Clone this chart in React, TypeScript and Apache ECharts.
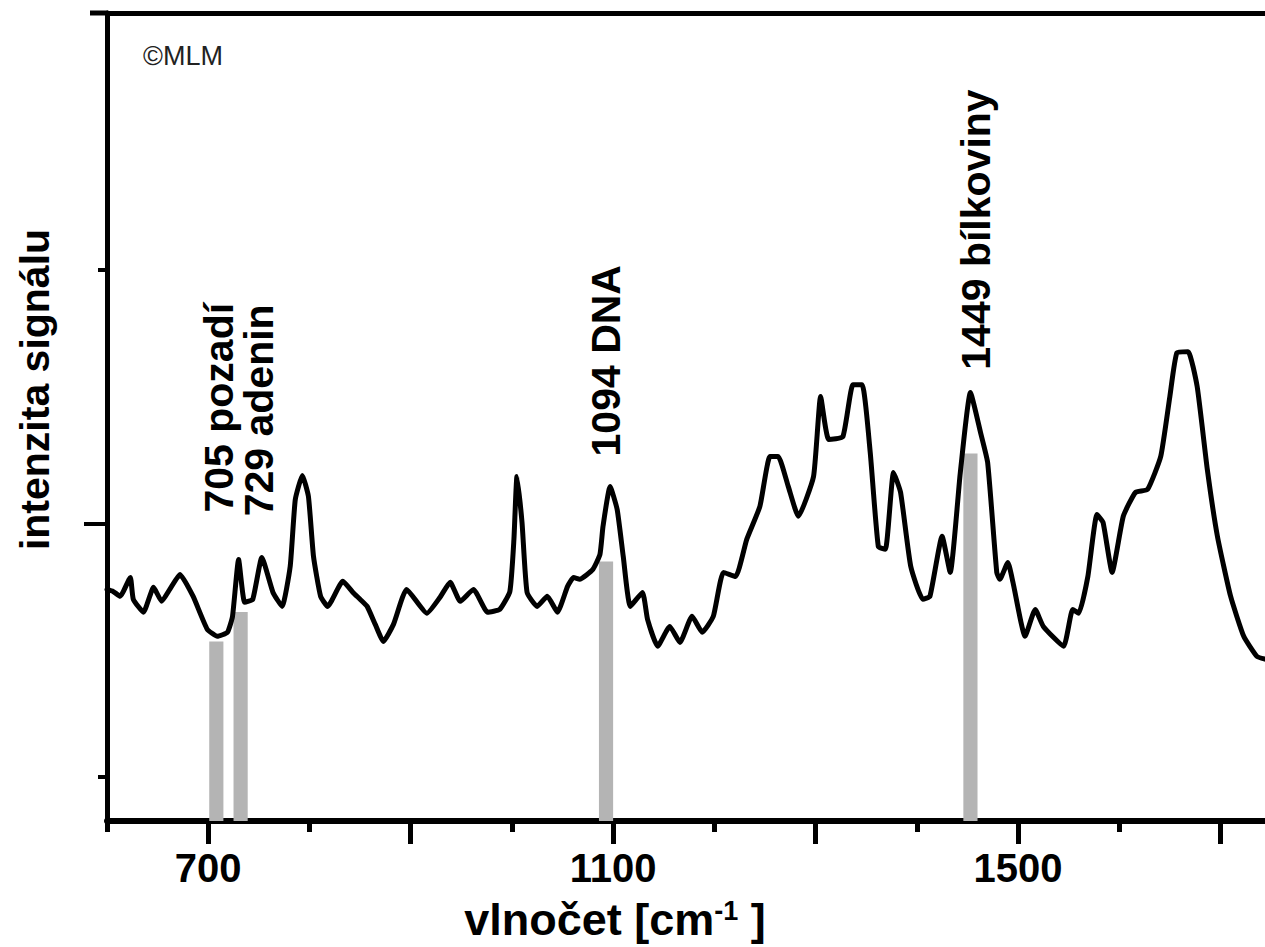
import React, { useEffect, useRef } from "react";
import * as echarts from "echarts";

// Raman spectrum: wavenumber [cm-1] and signal intensity (a.u.)
const wavenumbers = [
  600, 606, 613, 623, 626, 636, 646, 654, 662, 672, 685, 699, 709, 719, 724, 730, 736, 744, 753, 764,
  773, 781, 786, 793, 799, 804, 811, 818, 833, 843, 850, 857, 865, 873, 883, 896, 916, 929, 939, 949,
  962, 976, 988, 998, 1002, 1005, 1010, 1015, 1025, 1035, 1045, 1055, 1061, 1067, 1080, 1087, 1090, 1097, 1104, 1110,
  1117, 1129, 1134, 1144, 1156, 1166, 1178, 1188, 1199, 1209, 1221, 1232, 1245, 1255, 1263, 1273, 1283, 1298, 1305, 1313,
  1327, 1337, 1346, 1354, 1362, 1369, 1377, 1384, 1394, 1406, 1413, 1425, 1433, 1443, 1453, 1463, 1470, 1479, 1482, 1490,
  1495, 1507, 1517, 1525, 1545, 1554, 1560, 1569, 1578, 1584, 1593, 1604, 1616, 1628, 1641, 1650, 1657, 1668, 1677, 1687,
  1697, 1710, 1723, 1736, 1744,
];
const intensities = [
  1740, 1732, 1713, 1787, 1701, 1650, 1748, 1693, 1740, 1799, 1713, 1583, 1555, 1571, 1634, 1858, 1689, 1701, 1866, 1728,
  1673, 1831, 2094, 2189, 2106, 1870, 1713, 1673, 1772, 1728, 1701, 1673, 1602, 1535, 1602, 1740, 1646, 1709, 1768, 1693,
  1740, 1650, 1661, 1732, 1937, 2185, 2004, 1728, 1673, 1713, 1650, 1752, 1787, 1780, 1819, 1878, 1988, 2146, 2055, 1870,
  1673, 1728, 1622, 1516, 1594, 1531, 1634, 1571, 1634, 1807, 1791, 1937, 2067, 2264, 2264, 2146, 2028, 2185, 2500, 2331,
  2342, 2547, 2547, 2280, 1909, 1898, 2201, 2122, 1831, 1701, 1713, 1949, 1807, 2201, 2516, 2358, 2240, 1807, 1780, 1846,
  1768, 1555, 1661, 1594, 1516, 1661, 1646, 1791, 2035, 2004, 1807, 2028, 2122, 2134, 2264, 2500, 2673, 2677, 2539, 2213,
  1949, 1713, 1555, 1476, 1465,
];

// highlighted bands (centres in cm-1) and their labels
const bandCenters = [708, 732, 1093, 1453];
const bandHalfWidth = 7;
const bandLabels = ["705 pozadí", "729 adenin", "1094 DNA", "1449 bílkoviny"];
const labelAnchorX = [711, 750, 1093, 1458];
const labelLevels = [2043, 2028, 2264, 2606];

// axes
const X_MIN = 600;
const X_MAX = 1744;
const Y_MIN = 827;
const Y_MAX = 4012;
const xMinorTicks = [600, 700, 800, 900, 1000, 1100, 1200, 1300, 1400, 1500, 1600, 1700];
const xMajorTicks = [700, 900, 1100, 1300, 1500, 1700];
const xTickLabels = [700, 1100, 1500];
const yShortTicks = [1000, 3000];
const yLongTicks = [2000];

const FONT = "'Liberation Sans', Arial, Helvetica, sans-serif";

function valueAt(x: number): number {
  for (let i = 1; i < wavenumbers.length; i++) {
    if (x <= wavenumbers[i]) {
      const x0 = wavenumbers[i - 1];
      const x1 = wavenumbers[i];
      const t = (x - x0) / (x1 - x0);
      return intensities[i - 1] + t * (intensities[i] - intensities[i - 1]);
    }
  }
  return intensities[intensities.length - 1];
}

function bandTop(c: number): number {
  const lo = c - bandHalfWidth;
  const hi = c + bandHalfWidth;
  let m = Math.min(valueAt(lo), valueAt(c), valueAt(hi));
  wavenumbers.forEach((w, i) => {
    if (w >= lo && w <= hi) m = Math.min(m, intensities[i]);
  });
  return m - 20;
}

export default function App() {
  const ref = useRef<HTMLDivElement>(null);

  useEffect(() => {
    if (!ref.current) return;
    const chart = echarts.init(ref.current, null, { renderer: "svg" });
    const data = wavenumbers.map((w, i) => [w, intensities[i]]);
    const axisCommon = {
      type: "value",
      min: X_MIN,
      max: X_MAX,
      splitLine: { show: false },
    };
    const option: any = {
      animation: false,
      backgroundColor: "#fff",
      grid: { left: 107, right: 0, top: 13, bottom: 125, containLabel: false },
      xAxis: [
        {
          ...axisCommon,
          position: "bottom",
          axisLine: { show: true, onZero: false, lineStyle: { color: "#000", width: 6 } },
          axisTick: { show: true, customValues: xMinorTicks, length: 11, lineStyle: { color: "#000", width: 5 } },
          axisLabel: {
            show: true,
            customValues: xTickLabels,
            formatter: (v: number) => String(v),
            margin: 27,
            fontSize: 40,
            fontWeight: "bold",
            color: "#000",
            fontFamily: FONT,
          },
          name: "vlnočet [cm{sup|-1}{t| ]}",
          nameLocation: "middle",
          nameGap: 76,
          nameTextStyle: {
            fontSize: 45,
            fontWeight: "bold",
            color: "#000",
            fontFamily: FONT,
            padding: [0, 142, 0, 0],
            rich: {
              sup: { fontSize: 27, fontWeight: "bold", color: "#000", fontFamily: FONT, verticalAlign: "top" },
              t: { fontSize: 45, fontWeight: "bold", color: "#000", fontFamily: FONT },
            },
          },
        },
        {
          ...axisCommon,
          position: "bottom",
          axisLine: { show: false },
          axisTick: { show: true, customValues: xMajorTicks, length: 23, lineStyle: { color: "#000", width: 5 } },
          axisLabel: { show: false },
        },
        {
          ...axisCommon,
          position: "top",
          axisLine: { show: true, lineStyle: { color: "#000", width: 5 } },
          axisTick: { show: false },
          axisLabel: { show: false },
        },
      ],
      yAxis: [
        {
          type: "value",
          min: Y_MIN,
          max: Y_MAX,
          position: "left",
          splitLine: { show: false },
          axisLine: { show: true, onZero: false, lineStyle: { color: "#000", width: 5 } },
          axisTick: { show: true, customValues: yShortTicks, length: 9, lineStyle: { color: "#000", width: 4 } },
          axisLabel: { show: false },
          name: "intenzita signálu",
          nameLocation: "middle",
          nameGap: 52,
          nameTextStyle: {
            fontSize: 41,
            fontWeight: "bold",
            color: "#000",
            fontFamily: FONT,
            padding: [0, 0, 0, 55],
          },
        },
        {
          type: "value",
          min: Y_MIN,
          max: Y_MAX,
          position: "left",
          splitLine: { show: false },
          axisLine: { show: false },
          axisTick: { show: true, customValues: yLongTicks, length: 23, lineStyle: { color: "#000", width: 4 } },
          axisLabel: { show: false },
        },
      ],
      series: [
        {
          type: "line",
          xAxisIndex: 0,
          yAxisIndex: 0,
          data,
          showSymbol: false,
          symbol: "none",
          smooth: 0.15,
          lineStyle: { color: "#000", width: 5, join: "round", cap: "round" },
          z: 3,
          markArea: {
            silent: true,
            itemStyle: { color: "#b4b4b4", opacity: 1 },
            data: bandCenters.map((c) => [
              { xAxis: c - bandHalfWidth, yAxis: Y_MIN },
              { xAxis: c + bandHalfWidth, yAxis: bandTop(c) },
            ]),
          },
        },
      ],
    };
    chart.setOption(option);

    const labelEls = bandLabels.map((text, i) => {
      const p = chart.convertToPixel({ seriesIndex: 0 }, [labelAnchorX[i], labelLevels[i]]) as number[];
      return {
        type: "text",
        x: p[0],
        y: p[1],
        rotation: Math.PI / 2,
        silent: true,
        style: {
          text,
          fontSize: 41,
          fontWeight: "bold",
          fontFamily: FONT,
          fill: "#000",
          align: "left",
          verticalAlign: "middle",
        },
      };
    });
    chart.setOption({
      graphic: [
        ...labelEls,
        {
          type: "text",
          left: 143,
          top: 42,
          silent: true,
          style: { text: "©MLM", fontSize: 27, fontFamily: FONT, fill: "#222" },
        },
        {
          type: "line",
          silent: true,
          shape: { x1: 90, y1: 13, x2: 108, y2: 13 },
          style: { stroke: "#000", lineWidth: 5 },
        },
      ],
    });

    return () => chart.dispose();
  }, []);

  return (
    <div
      ref={ref}
      style={{ position: "fixed", left: 0, top: 0, width: 1265, height: 947, background: "#fff" }}
    />
  );
}
